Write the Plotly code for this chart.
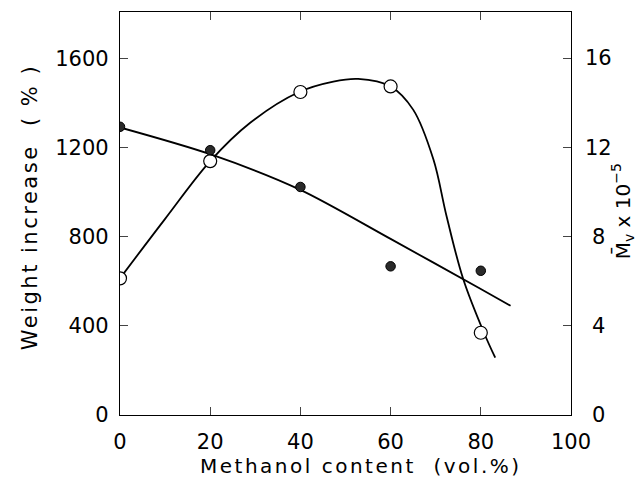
import plotly.graph_objects as go

# Measured points
methanol = [0, 20, 40, 60, 80]
weight_increase = [613, 1139, 1449, 1474, 369]          # open circles, left axis (%)
mv = [12.93, 11.88, 10.23, 6.67, 6.47]                  # filled circles, right axis (x10^-5)

# Smooth curves
wi_curve_x = [0, 10, 20, 28.8, 39.7, 47.3, 52.8, 60, 65, 69.5, 72.4, 76.1, 80.7, 83.2]
wi_curve_y = [613, 880, 1139, 1310, 1449, 1496, 1508, 1474, 1370, 1146, 893, 610, 369, 257]
mv_curve_x = [0, 20, 40, 60, 80, 86.6]
mv_curve_y = [12.9, 11.7, 10.1, 7.9, 5.65, 4.9]

x_ticks = [0, 20, 40, 60, 80, 100]
y_ticks = [0, 400, 800, 1200, 1600]
y2_ticks = [0, 4, 8, 12, 16]
y2_labels = ["0", "4", "8", "12", "16"]

x_title = "Methanol content  (vol.%)"
y_title = "Weight increase  ( % )"
y2_title = "M̄<sub>v</sub> x 10<sup>−5</sup>"

FONT = "DejaVu Sans"
W, H = 636, 476          # page body has an 8px margin
fig = go.Figure()

fig.add_trace(go.Scatter(x=wi_curve_x, y=wi_curve_y, mode="lines",
                         line=dict(color="black", width=1.8, shape="spline", smoothing=1.0),
                         showlegend=False, hoverinfo="skip"))
fig.add_trace(go.Scatter(x=mv_curve_x, y=mv_curve_y, mode="lines", yaxis="y2",
                         line=dict(color="black", width=1.8, shape="spline", smoothing=0.8),
                         showlegend=False, hoverinfo="skip"))
fig.add_trace(go.Scatter(x=methanol, y=weight_increase, mode="markers",
                         marker=dict(symbol="circle", size=13, color="white",
                                     line=dict(color="black", width=1.2)),
                         showlegend=False))
fig.add_trace(go.Scatter(x=methanol, y=mv, mode="markers", yaxis="y2",
                         marker=dict(symbol="circle", size=9.5, color="#2a2a2a",
                                     line=dict(color="black", width=1)),
                         showlegend=False))

annotations = []
# Right-axis tick labels (centered, as in the reference)
for v, t in zip(y2_ticks, y2_labels):
    annotations.append(dict(x=1.062, xref="paper", y=v, yref="y2", text=t,
                            showarrow=False, xanchor="center", yanchor="middle",
                            font=dict(family=FONT, size=21, color="black")))
# Axis titles
annotations.append(dict(x=0.5, xref="paper", y=-0.1266, yref="paper", xshift=15,
                        text='<span style="letter-spacing:2.5px">' + x_title + '</span>',
                        showarrow=False, xanchor="center", yanchor="middle",
                        font=dict(family=FONT, size=20, color="black")))
annotations.append(dict(x=-0.2, xref="paper", y=0.5, yref="paper", yshift=6,
                        text='<span style="letter-spacing:2.5px">' + y_title + '</span>',
                        textangle=-90, showarrow=False, xanchor="center", yanchor="middle",
                        font=dict(family=FONT, size=21, color="black")))
annotations.append(dict(x=1.115, xref="paper", y=0.5, yref="paper", yshift=2,
                        text=y2_title, textangle=-90, showarrow=False,
                        xanchor="center", yanchor="middle",
                        font=dict(family=FONT, size=20, color="black")))

fig.update_layout(
    width=W, height=H,
    margin=dict(l=112, r=73, t=4, b=69, autoexpand=False),
    paper_bgcolor="white", plot_bgcolor="white",
    font=dict(family=FONT, color="black", size=20),
    annotations=annotations,
    xaxis=dict(range=[0, 100], tickvals=x_ticks, ticks="inside", ticklen=8,
               showline=True, linecolor="black", linewidth=1.2, mirror="ticks",
               showgrid=False, zeroline=False, automargin=False,
               tickfont=dict(size=21), ticklabelstandoff=8),
    yaxis=dict(range=[0, 1808], tickvals=y_ticks, ticks="inside", ticklen=8,
               showline=True, linecolor="black", linewidth=1.2,
               showgrid=False, zeroline=False, tickfont=dict(size=21), automargin=False,
               ticklabelstandoff=6),
    yaxis2=dict(range=[0, 18.08], tickvals=y2_ticks, ticks="inside", ticklen=8,
                showticklabels=False, automargin=False,
                overlaying="y", side="right",
                showline=True, linecolor="black", linewidth=1.2,
                showgrid=False, zeroline=False),
)

fig.write_html("out.html")
